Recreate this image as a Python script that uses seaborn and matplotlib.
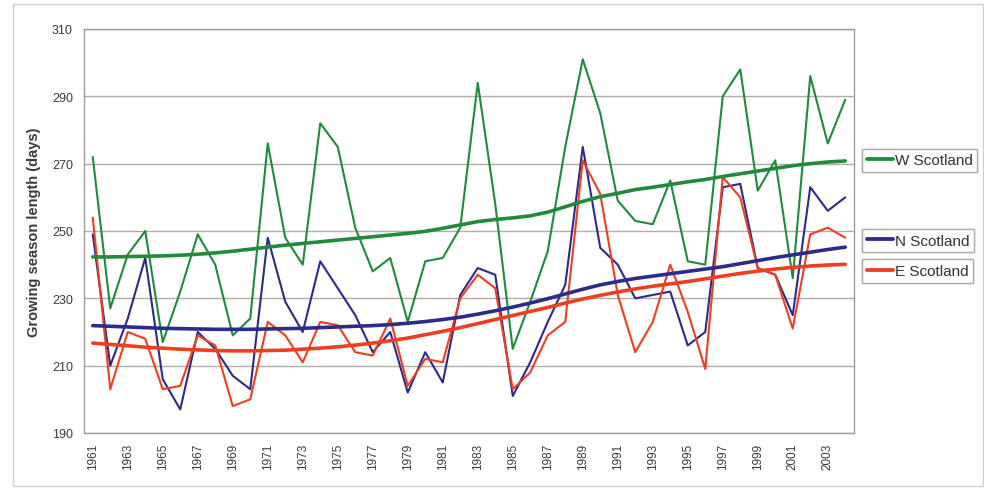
import matplotlib
matplotlib.use("Agg")
import matplotlib.pyplot as plt
from matplotlib.lines import Line2D
from matplotlib.patches import Rectangle
import seaborn as sns
import numpy as np
import pandas as pd

# Colours for the three regions.
GREEN = "#1f8b3b"
BLUE = "#2c2a8a"
RED = "#ef3e1f"
GRID = "#b3aca2"
TEXT = "#3a3a3a"

years = list(range(1961, 2005))

# Annual growing season length (days).
w_scotland = [272, 227, 243, 250, 217, 232, 249, 240, 219, 224,
              276, 248, 240, 282, 275, 251, 238, 242, 223, 241,
              242, 251, 294, 258, 215, 229, 244, 275, 301, 285,
              259, 253, 252, 265, 241, 240, 290, 298, 262, 271,
              236, 296, 276, 289]
n_scotland = [249, 210, 224, 242, 206, 197, 220, 215, 207, 203,
              248, 229, 220, 241, 233, 225, 214, 220, 202, 214,
              205, 231, 239, 237, 201, 211, 223, 234, 275, 245,
              240, 230, 231, 232, 216, 220, 263, 264, 239, 237,
              225, 263, 256, 260]
e_scotland = [254, 203, 220, 218, 203, 204, 219, 216, 198, 200,
              223, 219, 211, 223, 222, 214, 213, 224, 204, 212,
              211, 230, 237, 233, 203, 208, 219, 223, 271, 261,
              231, 214, 223, 240, 226, 209, 266, 260, 239, 237,
              221, 249, 251, 248]

# Smoothed trend lines.
w_trend = [242.3, 242.3, 242.4, 242.5, 242.6, 242.8, 243.1, 243.5, 244.0, 244.6,
           245.2, 245.8, 246.3, 246.8, 247.3, 247.8, 248.3, 248.8, 249.3, 249.9,
           250.8, 251.8, 252.8, 253.4, 253.9, 254.5, 255.6, 257.2, 258.8, 260.2,
           261.2, 262.3, 263.0, 263.8, 264.6, 265.3, 266.2, 267.0, 267.8, 268.6,
           269.4, 270.0, 270.5, 270.8]
n_trend = [221.9, 221.7, 221.5, 221.3, 221.1, 221.0, 220.9, 220.8, 220.8, 220.8,
           220.9, 221.0, 221.1, 221.3, 221.5, 221.7, 221.9, 222.2, 222.6, 223.1,
           223.7, 224.4, 225.3, 226.3, 227.4, 228.6, 229.9, 231.3, 232.7, 234.0,
           235.0, 235.9, 236.6, 237.3, 238.0, 238.7, 239.4, 240.3, 241.2, 242.1,
           242.9, 243.7, 244.5, 245.2]
e_trend = [216.7, 216.3, 215.9, 215.5, 215.2, 214.9, 214.7, 214.5, 214.4, 214.4,
           214.5, 214.6, 214.9, 215.2, 215.6, 216.1, 216.7, 217.4, 218.2, 219.2,
           220.2, 221.3, 222.5, 223.7, 224.9, 226.1, 227.3, 228.6, 229.8, 230.9,
           231.9, 232.8, 233.6, 234.3, 235.0, 235.8, 236.6, 237.4, 238.1, 238.7,
           239.2, 239.6, 239.9, 240.1]

series = {
    "W Scotland": (w_scotland, w_trend, GREEN),
    "N Scotland": (n_scotland, n_trend, BLUE),
    "E Scotland": (e_scotland, e_trend, RED),
}

sns.set_theme(style="white")
plt.rcParams["font.family"] = ["Liberation Sans", "DejaVu Sans"]

fig = plt.figure(figsize=(9.84, 4.89), dpi=100)
ax = fig.add_axes([84 / 984, 1 - 434 / 489, 770 / 984, 404 / 489])

pos = np.arange(len(years))
for name, (vals, trend, col) in series.items():
    df = pd.DataFrame({"pos": pos, "days": vals, "trend": trend})
    sns.lineplot(data=df, x="pos", y="days", ax=ax, color=col, linewidth=1.5, zorder=3)
for name, (vals, trend, col) in series.items():
    df = pd.DataFrame({"pos": pos, "days": vals, "trend": trend})
    sns.lineplot(data=df, x="pos", y="trend", ax=ax, color=col, linewidth=2.6, zorder=4)

ax.set_xlim(-0.5, len(years) - 0.5)
ax.set_ylim(190, 310)
ax.set_yticks(range(190, 311, 20))
ax.yaxis.grid(True, color=GRID, linewidth=1)
ax.set_axisbelow(True)

# year labels on every other category, ticks sit between categories
ax.set_xticks(pos[::2])
ax.set_xticklabels([str(y) for y in years[::2]], rotation=90)
ax.set_xticks(np.arange(-0.5, len(years), 2), minor=True)
ax.tick_params(axis="x", which="major", length=0, pad=7, labelsize=8.5, labelcolor=TEXT)
ax.tick_params(axis="x", which="minor", length=4, width=1, color="#999999", direction="out")
ax.tick_params(axis="y", length=5, width=1, color="#999999", direction="out",
               labelsize=9, labelcolor=TEXT, pad=3)

ax.set_xlabel("")
ax.set_ylabel("Growing season length (days)", fontsize=10.5, fontweight="bold",
              color=TEXT, labelpad=8)

for s in ax.spines.values():
    s.set_color("#9c9c9c")
    s.set_linewidth(1)

# separate legend boxes at the right
legend_y = {"W Scotland": 1 - 161.5 / 489, "N Scotland": 1 - 241.5 / 489, "E Scotland": 1 - 272 / 489}
for name, (vals, trend, col) in series.items():
    h = Line2D([], [], color=col, linewidth=2.7)
    leg = fig.legend(handles=[h], labels=[name], loc="center left",
                     bbox_to_anchor=(862 / 984, legend_y[name]),
                     frameon=True, fancybox=False, fontsize=11,
                     handlelength=1.7, handletextpad=0.15, borderpad=0.3,
                     borderaxespad=0, labelcolor=TEXT)
    leg.get_frame().set_edgecolor("#a8a29a")
    leg.get_frame().set_linewidth(1)
    fig.add_artist(leg)

# thin outer chart border
fig.add_artist(Rectangle((13 / 984, 2 / 489), 970 / 984, 482 / 489, transform=fig.transFigure,
                         fill=False, edgecolor="#cfcfcf", linewidth=1))

fig.savefig("out.png", dpi=100)
